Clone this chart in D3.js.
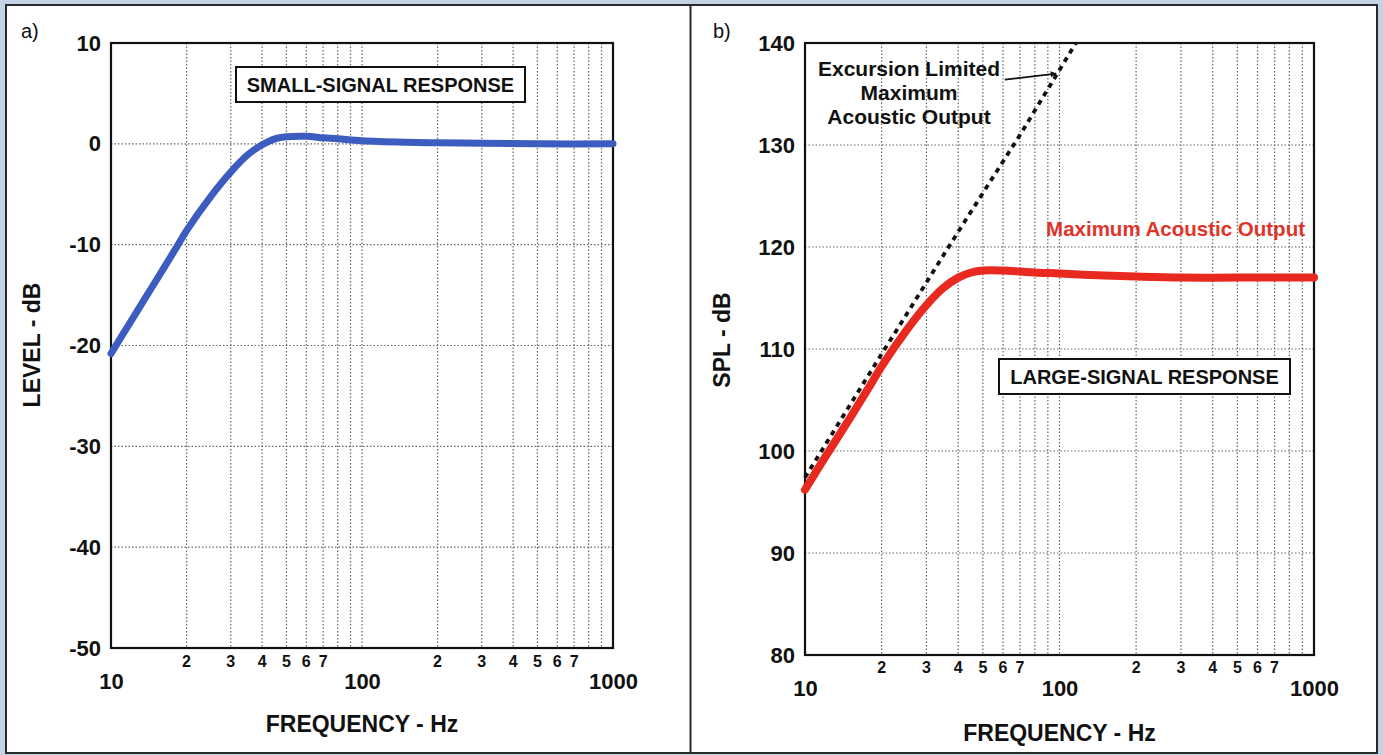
<!DOCTYPE html>
<html>
<head>
<meta charset="utf-8">
<script src="https://cdn.jsdelivr.net/npm/d3@7"></script>
<style>
  html, body { margin: 0; padding: 0; background: #c3d3e6; }
  svg { display: block; }
  text { font-family: "Liberation Sans", Arial, sans-serif; }
</style>
</head>
<body>
<svg id="chart" width="1383" height="755"></svg>
<script>
// ---------------- DATA ----------------
const freqTicksMajor = [10, 100, 1000];
const freqMinorLabels = ["2", "3", "4", "5", "6", "7"];
const levelTicks = [10, 0, -10, -20, -30, -40, -50];
const splTicks = [140, 130, 120, 110, 100, 90, 80];

// Small-signal response (panel a)
const freqA = [10, 12, 15, 18, 20, 25, 30, 35, 40, 45, 50, 60, 70, 80, 100, 150, 200, 300, 500, 1000];
const levelA = [-20.8, -17.6, -13.7, -10.5, -8.6, -5.2, -2.8, -1.1, -0.1, 0.5, 0.7, 0.75, 0.6, 0.5, 0.3, 0.15, 0.1, 0.05, 0.0, 0.0];

// Large-signal response (panel b)
const freqB = [10, 12, 15, 18, 20, 25, 30, 35, 40, 45, 50, 60, 70, 80, 100, 150, 200, 300, 500, 1000];
const splB = [96.2, 99.4, 103.2, 106.4, 108.3, 111.8, 114.3, 116.0, 117.0, 117.5, 117.7, 117.7, 117.6, 117.5, 117.4, 117.2, 117.1, 117.0, 117.0, 117.0];

// Excursion limited maximum acoustic output (dashed)
const freqExc = [10, 20, 40, 70, 116];
const splExc = [97.4, 109.5, 121.5, 131.0, 140.0];

// ---------------- DRAW ----------------
const svg = d3.select("#chart");
const fmt = d => String(d);

// page frame
svg.append("rect").attr("x", 6).attr("y", 5).attr("width", 1371).attr("height", 748)
  .attr("fill", "#ffffff").attr("stroke", "#2a2a2a").attr("stroke-width", 2);
svg.append("line").attr("x1", 690.5).attr("x2", 690.5).attr("y1", 5).attr("y2", 753)
  .attr("stroke", "#2a2a2a").attr("stroke-width", 2);

function drawPanel(cfg) {
  const g = svg.append("g");
  const x = d3.scaleLog().domain([10, 1000]).range([cfg.x0, cfg.x1]);
  const y = d3.scaleLinear().domain(cfg.yDomain).range([cfg.y1, cfg.y0]);

  // grid: vertical minor+major
  const vGrid = [];
  [10, 100].forEach(d => { for (let k = 2; k <= 9; k++) vGrid.push(d * k); });
  vGrid.push(100);
  g.append("g").selectAll("line").data(vGrid).join("line")
    .attr("x1", d => x(d)).attr("x2", d => x(d))
    .attr("y1", cfg.y0).attr("y2", cfg.y1)
    .attr("stroke", "#666").attr("stroke-width", 1.2).attr("stroke-dasharray", "1.5,2");
  // grid: horizontal
  const hGrid = cfg.yTicks.filter(t => t !== cfg.yDomain[0] && t !== cfg.yDomain[1]);
  g.append("g").selectAll("line").data(hGrid).join("line")
    .attr("x1", cfg.x0).attr("x2", cfg.x1)
    .attr("y1", d => y(d)).attr("y2", d => y(d))
    .attr("stroke", "#666").attr("stroke-width", 1.2).attr("stroke-dasharray", "1.5,2");

  // y axis labels
  const yAxis = d3.axisLeft(y).tickValues(cfg.yTicks).tickSize(0).tickPadding(cfg.yPad).tickFormat(fmt);
  const ya = g.append("g").attr("transform", `translate(${cfg.x0},0)`).call(yAxis);
  ya.select(".domain").remove();
  ya.selectAll("text").attr("font-size", 22).attr("font-weight", "bold").attr("fill", "#111")
    .attr("font-family", "Liberation Sans, Arial, sans-serif");

  // x axis: decade labels
  const xAxis = d3.axisBottom(x).tickValues(freqTicksMajor).tickSize(0).tickPadding(cfg.xMajorPad).tickFormat(fmt);
  const xa = g.append("g").attr("transform", `translate(0,${cfg.y1})`).call(xAxis);
  xa.select(".domain").remove();
  xa.selectAll("text").attr("font-size", 22).attr("font-weight", "bold").attr("fill", "#111")
    .attr("font-family", "Liberation Sans, Arial, sans-serif");

  // x axis: minor labels 2..7 in each decade
  const minorVals = [];
  [10, 100].forEach(d => freqMinorLabels.forEach(l => minorVals.push({ v: d * (+l), l })));
  g.append("g").selectAll("text").data(minorVals).join("text")
    .attr("x", d => x(d.v)).attr("y", cfg.y1 + cfg.xMinorPad)
    .attr("text-anchor", "middle").attr("dominant-baseline", "central")
    .attr("font-size", 16).attr("font-weight", "bold").attr("fill", "#111")
    .text(d => d.l);

  // plot frame
  g.append("rect").attr("x", cfg.x0).attr("y", cfg.y0)
    .attr("width", cfg.x1 - cfg.x0).attr("height", cfg.y1 - cfg.y0)
    .attr("fill", "none").attr("stroke", "#111").attr("stroke-width", 2.2);

  // axis titles
  g.append("text").attr("x", (cfg.x0 + cfg.x1) / 2).attr("y", cfg.xTitleY)
    .attr("text-anchor", "middle").attr("dominant-baseline", "central")
    .attr("font-size", 23).attr("font-weight", "bold").attr("fill", "#111")
    .text("FREQUENCY - Hz");
  g.append("text")
    .attr("transform", `translate(${cfg.yTitleX},${cfg.yTitleY}) rotate(-90)`)
    .attr("text-anchor", "middle").attr("dominant-baseline", "central")
    .attr("font-size", 23).attr("font-weight", "bold").attr("fill", "#111")
    .text(cfg.yTitle);

  // panel letter
  g.append("text").attr("x", cfg.letterX).attr("y", 31)
    .attr("dominant-baseline", "central").attr("font-size", 20).attr("fill", "#111")
    .text(cfg.letter);

  return { g, x, y };
}

// ---- Panel a ----
const pa = drawPanel({
  x0: 111, x1: 613, y0: 43, y1: 648, yDomain: [-50, 10], yTicks: levelTicks,
  yPad: 10, xMajorPad: 25, xMinorPad: 13, xTitleY: 724, yTitleX: 32, yTitleY: 345,
  yTitle: "LEVEL - dB", letter: "a)", letterX: 21
});
const lineA = d3.line().x((d, i) => pa.x(freqA[i])).y(d => pa.y(d)).curve(d3.curveCatmullRom.alpha(0.5));
pa.g.append("path").attr("d", lineA(levelA))
  .attr("fill", "none").attr("stroke", "#3c5cbf").attr("stroke-width", 7)
  .attr("stroke-linecap", "round").attr("stroke-linejoin", "round");
pa.g.append("rect").attr("x", 236).attr("y", 67).attr("width", 289).attr("height", 35)
  .attr("fill", "#fff").attr("stroke", "#111").attr("stroke-width", 2);
pa.g.append("text").attr("x", 380.5).attr("y", 85).attr("text-anchor", "middle")
  .attr("dominant-baseline", "central").attr("font-size", 20).attr("font-weight", "bold")
  .attr("fill", "#111").text("SMALL-SIGNAL RESPONSE");

// ---- Panel b ----
const pb = drawPanel({
  x0: 805, x1: 1314, y0: 43, y1: 655, yDomain: [80, 140], yTicks: splTicks,
  yPad: 10, xMajorPad: 25, xMinorPad: 12, xTitleY: 733, yTitleX: 722, yTitleY: 340,
  yTitle: "SPL - dB", letter: "b)", letterX: 713
});
const lineExc = d3.line().x((d, i) => pb.x(freqExc[i])).y(d => pb.y(d));
pb.g.append("path").attr("d", lineExc(splExc))
  .attr("fill", "none").attr("stroke", "#111").attr("stroke-width", 3.8)
  .attr("stroke-dasharray", "5,5");
const lineB = d3.line().x((d, i) => pb.x(freqB[i])).y(d => pb.y(d)).curve(d3.curveCatmullRom.alpha(0.5));
pb.g.append("path").attr("d", lineB(splB))
  .attr("fill", "none").attr("stroke", "#e8291f").attr("stroke-width", 8)
  .attr("stroke-linecap", "round").attr("stroke-linejoin", "round");

// annotations panel b
const excLines = ["Excursion Limited", "Maximum", "Acoustic Output"];
pb.g.append("g").selectAll("text").data(excLines).join("text")
  .attr("x", 909).attr("y", (d, i) => 68 + i * 24)
  .attr("text-anchor", "middle").attr("dominant-baseline", "central")
  .attr("font-size", 21).attr("font-weight", "bold").attr("fill", "#111")
  .text(d => d);
svg.append("defs").append("marker").attr("id", "arr")
  .attr("viewBox", "0 0 10 10").attr("refX", 9).attr("refY", 5)
  .attr("markerWidth", 9).attr("markerHeight", 6).attr("markerUnits", "userSpaceOnUse")
  .attr("orient", "auto")
  .append("path").attr("d", "M0,0 L10,5 L0,10 Z").attr("fill", "#111");
pb.g.append("line")
  .attr("x1", pb.x(61)).attr("y1", pb.y(136.4))
  .attr("x2", pb.x(97)).attr("y2", pb.y(137.0))
  .attr("stroke", "#111").attr("stroke-width", 1.8).attr("marker-end", "url(#arr)");
pb.g.append("text").attr("x", 1305).attr("y", 228).attr("text-anchor", "end")
  .attr("dominant-baseline", "central").attr("font-size", 20.5).attr("font-weight", "bold")
  .attr("fill", "#e0342a").text("Maximum Acoustic Output");
pb.g.append("rect").attr("x", 999).attr("y", 359).attr("width", 291).attr("height", 35)
  .attr("fill", "#fff").attr("stroke", "#111").attr("stroke-width", 2);
pb.g.append("text").attr("x", 1144.5).attr("y", 377).attr("text-anchor", "middle")
  .attr("dominant-baseline", "central").attr("font-size", 20).attr("font-weight", "bold")
  .attr("fill", "#111").text("LARGE-SIGNAL RESPONSE");
</script>
</body>
</html>
